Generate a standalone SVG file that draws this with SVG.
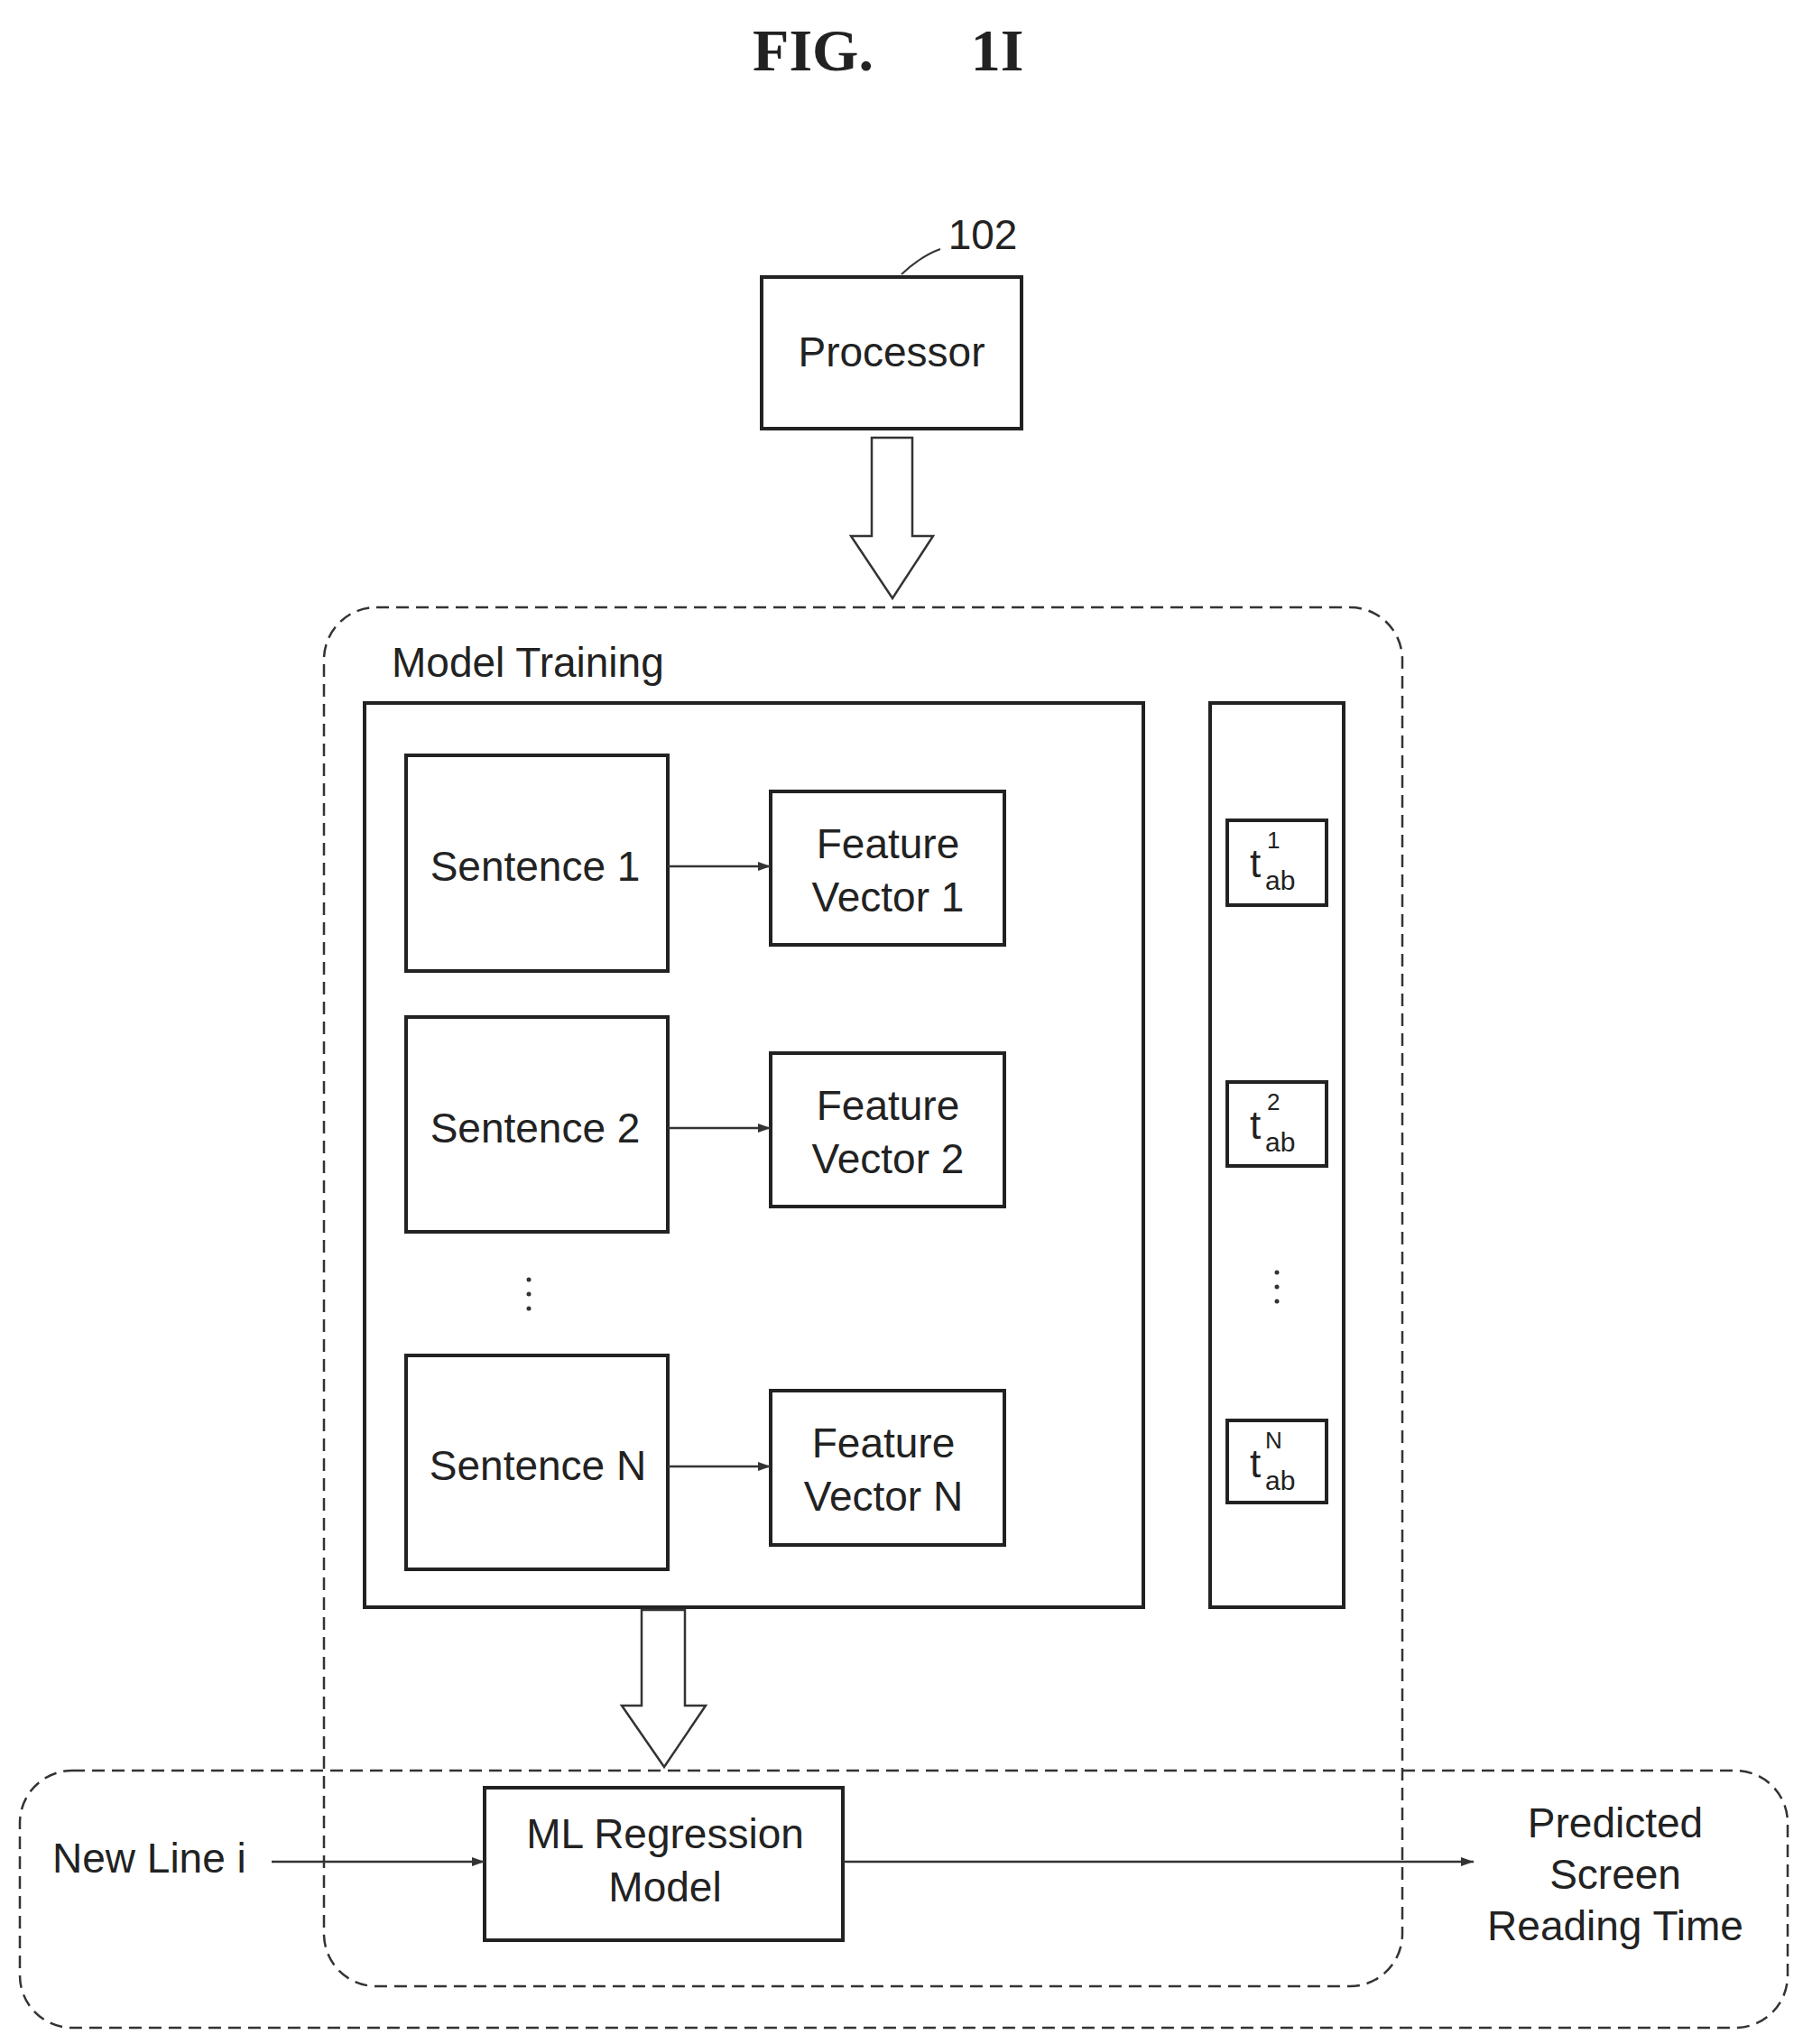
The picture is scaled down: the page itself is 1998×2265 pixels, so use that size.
<svg xmlns="http://www.w3.org/2000/svg" width="1998" height="2265" viewBox="0 0 1998 2265">
<style>
.b{fill:none;stroke:#222;stroke-width:4}
.d{fill:none;stroke:#333;stroke-width:2.5;stroke-dasharray:14 8}
.t{font-family:"Liberation Sans",Arial,sans-serif;font-size:46px;fill:#222;text-anchor:middle}
.s{font-family:"Liberation Sans",Arial,sans-serif;fill:#222;text-anchor:start}
.c{stroke:#333;stroke-width:2.5;fill:none;marker-end:url(#ah)}
.h{fill:#fff;stroke:#333;stroke-width:2.5}
.f{font-family:"Liberation Serif",serif;font-weight:bold;font-size:66px;fill:#222;text-anchor:middle}
</style>
<defs><marker id="ah" markerWidth="14" markerHeight="10" refX="14" refY="5" orient="auto" markerUnits="userSpaceOnUse"><path d="M0,0 L14,5 L0,10 Z" fill="#333"/></marker></defs>
<rect width="1998" height="2265" fill="#fff"/>
<text class="f" x="901" y="78">FIG.</text><text class="f" x="1105" y="78">1I</text>
<g id="model-training"><rect class="d" x="359" y="673" width="1195" height="1528" rx="58"/><text class="t" x="434" y="750" style="text-anchor:start">Model Training</text></g>
<g id="inference"><rect class="d" x="22" y="1962" width="1959" height="285" rx="58"/></g>
<g id="processor"><rect class="b" x="844" y="307" width="288" height="168"/><text class="t" x="988" y="406">Processor</text><text class="t" x="1089" y="276">102</text><path d="M999,304 Q1020,284 1042,276" fill="none" stroke="#333" stroke-width="2"/></g>
<g id="training-box"><rect class="b" x="404" y="779" width="863" height="1002"/></g>
<g id="times-box"><rect class="b" x="1341" y="779" width="148" height="1002"/></g>
<g id="s1"><rect class="b" x="450" y="837" width="290" height="239"/><text class="t" x="593" y="976">Sentence 1</text></g>
<g id="fv1"><rect class="b" x="854" y="877" width="259" height="170"/><text class="t" x="984" y="951">Feature</text><text class="t" x="984" y="1010">Vector 1</text></g>
<g id="s2"><rect class="b" x="450" y="1127" width="290" height="238"/><text class="t" x="593" y="1266">Sentence 2</text></g>
<g id="fv2"><rect class="b" x="854" y="1167" width="259" height="170"/><text class="t" x="984" y="1241">Feature</text><text class="t" x="984" y="1300">Vector 2</text></g>
<g id="sn"><rect class="b" x="450" y="1502" width="290" height="237"/><text class="t" x="596" y="1640">Sentence N</text></g>
<g id="fvn"><rect class="b" x="854" y="1541" width="259" height="171"/><text class="t" x="979" y="1615">Feature</text><text class="t" x="979" y="1674">Vector N</text></g>
<g id="dots" fill="#333"><circle cx="586" cy="1418" r="2.5"/><circle cx="586" cy="1434" r="2.5"/><circle cx="586" cy="1450" r="2.5"/><circle cx="1415" cy="1410" r="2.5"/><circle cx="1415" cy="1426" r="2.5"/><circle cx="1415" cy="1442" r="2.5"/></g>
<g id="t1"><rect class="b" x="1360" y="909" width="110" height="94"/><text class="s" x="1385" y="972" font-size="44">t</text><text class="s" x="1404" y="940" font-size="26">1</text><text class="s" x="1402" y="986" font-size="30">ab</text></g>
<g id="t2"><rect class="b" x="1360" y="1199" width="110" height="93"/><text class="s" x="1385" y="1262" font-size="44">t</text><text class="s" x="1404" y="1230" font-size="26">2</text><text class="s" x="1402" y="1276" font-size="30">ab</text></g>
<g id="tn"><rect class="b" x="1360" y="1574" width="110" height="91"/><text class="s" x="1385" y="1637" font-size="44">t</text><text class="s" x="1402" y="1605" font-size="26">N</text><text class="s" x="1402" y="1651" font-size="30">ab</text></g>
<g id="ml"><rect class="b" x="537" y="1981" width="397" height="169"/><text class="t" x="737" y="2048">ML Regression</text><text class="t" x="737" y="2107">Model</text></g>
<g id="newline"><text class="t" x="58" y="2075" style="text-anchor:start">New Line i</text></g>
<g id="predicted"><text class="t" x="1790" y="2036">Predicted</text><text class="t" x="1790" y="2093">Screen</text><text class="t" x="1790" y="2150">Reading Time</text></g>
<g id="connectors">
<path class="h" d="M966,485 H1011 V594 H1034 L989,663 L943,594 H966 Z"/>
<path class="h" d="M711,1784 H759 V1890 H782 L736,1958 L689,1890 H711 Z"/>
<line class="c" x1="740" y1="960" x2="854" y2="960"/>
<line class="c" x1="740" y1="1250" x2="854" y2="1250"/>
<line class="c" x1="740" y1="1625" x2="854" y2="1625"/>
<line class="c" x1="301" y1="2063" x2="537" y2="2063"/>
<line class="c" x1="934" y1="2063" x2="1633" y2="2063"/>
</g>
</svg>
